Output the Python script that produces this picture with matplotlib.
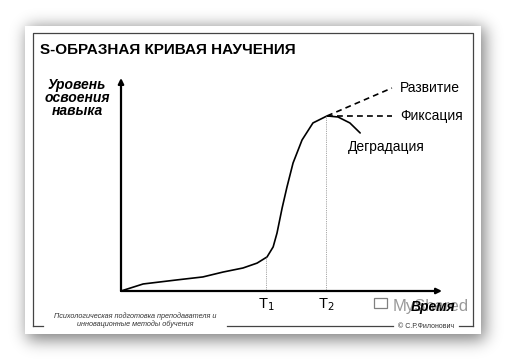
import math
import numpy as np
import matplotlib
matplotlib.use("Agg")
import matplotlib.pyplot as plt
from matplotlib.patches import Rectangle

plt.rcParams["font.family"] = ["Liberation Sans", "DejaVu Sans"]

# curve: time vs level (0..100 in both directions)
time = [0, 6.9, 17.4, 25.5, 31.8, 38.0, 42.4, 45.5, 47.4, 48.6, 50.2,
        51.7, 53.6, 56.4, 59.8, 64.2, 67.6, 71.3, 74.5]
level = [0, 3.3, 5.2, 6.6, 8.9, 10.8, 13.1, 16.0, 20.7, 27.2, 39.0,
         48.8, 60.1, 70.9, 78.9, 82.2, 81.7, 78.9, 74.2]

t_marks = [45.2, 63.9]
t_levels = [16.4, 82.2]
t_labels = ["T$_1$", "T$_2$"]

# branches after the peak
branch_names = ["Развитие", "Фиксация"]
branch_start = (64.2, 82.2)
branch_end_t = [84.4, 84.4]
branch_end_level = [95.3, 82.2]
degradation_label = "Деградация"

W, H = 509, 360
fig = plt.figure(figsize=(W / 100, H / 100), dpi=100)
fig.patch.set_facecolor("white")

bg = fig.add_axes([0, 0, 1, 1])
bg.set_xlim(0, W)
bg.set_ylim(H, 0)
bg.axis("off")

# soft drop shadow around the card
card = (25, 26, 481, 334)
xs = np.arange(W) + 0.5
ys = np.arange(H) + 0.5
erf = np.vectorize(math.erf)
s = 8.0 * math.sqrt(2)
sx = 0.5 * (erf((xs - card[0] - 2) / s) - erf((xs - card[2] - 4) / s))
sy = 0.5 * (erf((ys - card[1] - 1) / s) - erf((ys - card[3] - 6) / s))
shadow = np.outer(sy, sx)
rgba = np.zeros((H, W, 4))
rgba[..., 3] = 0.5 * shadow
bg.imshow(rgba, extent=(0, W, H, 0), zorder=0, interpolation="bilinear")
bg.set_xlim(0, W)
bg.set_ylim(H, 0)

bg.add_patch(Rectangle((card[0], card[1]), card[2] - card[0], card[3] - card[1],
                       facecolor="white", edgecolor="none", zorder=1))

# inner frame with gaps for footer text
fc = "#444444"
bg.plot([33, 33, 473, 473], [326, 33, 33, 326], color=fc, lw=0.9, zorder=2)
for x0, x1 in [(33, 43), (227, 393), (459, 473)]:
    bg.plot([x0, x1], [326, 326], color=fc, lw=0.9, zorder=2)

bg.text(40, 50, "S-ОБРАЗНАЯ КРИВАЯ НАУЧЕНИЯ", fontsize=11, fontweight="bold",
        va="center", ha="left", zorder=3)
bg.text(77, 98, "Уровень\nосвоения\nнавыка", fontsize=10, fontweight="bold",
        fontstyle="italic", ha="center", va="center", linespacing=0.95, zorder=3)
bg.text(135, 320, "Психологическая подготовка преподавателя и\nинновационные методы обучения",
        fontsize=5.2, fontstyle="italic", color="#333333", ha="center", va="center",
        linespacing=1.0, zorder=3)
bg.text(426, 326, "© С.Р.Филонович", fontsize=5, color="#333333",
        ha="center", va="center", zorder=3)

# watermark and x-axis name
bg.text(393, 306, "MyShared", fontsize=12, color="#9a9a9a", ha="left",
        va="center", zorder=3)
bg.add_patch(Rectangle((374, 298), 13, 10, facecolor="none", edgecolor="#808080",
                       lw=0.9, zorder=3))
bg.text(433, 307, "Время", fontsize=10, fontweight="bold", fontstyle="italic",
        ha="center", va="center", zorder=4)

# chart area: origin at (121, 291), x arrow to 442, y arrow to 78
ax = fig.add_axes([121 / W, 1 - 291 / H, (442 - 121) / W, (291 - 78) / H])
ax.set_xlim(0, 100)
ax.set_ylim(0, 100)
ax.axis("off")
ax.patch.set_alpha(0)

arrow = dict(arrowstyle="-|>", lw=1.6, color="black", mutation_scale=8,
             shrinkA=0, shrinkB=0)
ax.annotate("", xy=(1, 0), xytext=(0, 0), xycoords="axes fraction", arrowprops=arrow)
ax.annotate("", xy=(0, 1), xytext=(0, 0), xycoords="axes fraction", arrowprops=arrow)

ax.plot(time, level, color="black", lw=1.2, solid_capstyle="round",
        solid_joinstyle="round", clip_on=False)

for t, lv, lab in zip(t_marks, t_levels, t_labels):
    ax.plot([t, t], [0, lv], color="#888888", lw=0.6, ls=(0, (1, 1.2)))
    ax.text(t, -6.5, lab, fontsize=10.5, ha="center", va="center")

for name, te, le in zip(branch_names, branch_end_t, branch_end_level):
    ax.plot([branch_start[0], te], [branch_start[1], le], color="black",
            lw=1.2, ls=(0, (3.5, 2.5)), clip_on=False)
    ax.text(te + 2.5, le, name, fontsize=10, ha="left", va="center")

ax.text(time[-1] - 3.8, level[-1] - 6.6, degradation_label, fontsize=10,
        ha="left", va="center")

fig.savefig("out.png", dpi=100)
